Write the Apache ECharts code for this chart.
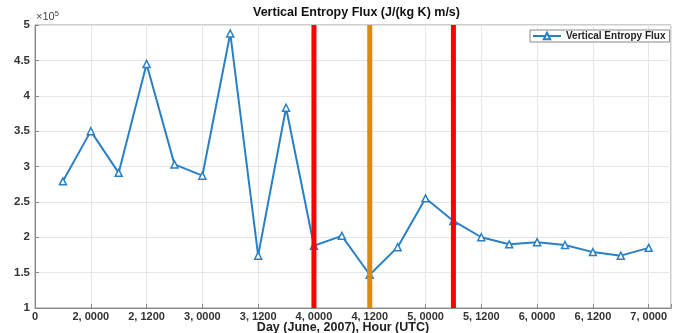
<!DOCTYPE html>
<html>
<head>
<meta charset="utf-8">
<script src="https://cdn.jsdelivr.net/npm/echarts@6/dist/echarts.min.js"></script>
<style>
  html, body { margin: 0; padding: 0; background: #fff; }
  #chart { width: 673px; height: 333px; }
</style>
</head>
<body>
<div id="chart"></div>
<script>
// tick labels along the time axis (one per 12 h)
const xTickLabels = ['0', '2, 0000', '2, 1200', '3, 0000', '3, 1200', '4, 0000',
  '4, 1200', '5, 0000', '5, 1200', '6, 0000', '6, 1200', '7, 0000'];
// sample positions in tick units (6-hourly)
const samplePos = [0.5, 1, 1.5, 2, 2.5, 3, 3.5, 4, 4.5, 5, 5.5, 6, 6.5, 7, 7.5, 8, 8.5, 9, 9.5, 10, 10.5, 11];
// flux values in units of 1e5
const fluxValues = [2.79, 3.50, 2.91, 4.45, 3.03, 2.87, 4.88, 1.74, 3.83, 1.88, 2.02,
  1.47, 1.86, 2.55, 2.23, 2.00, 1.90, 1.93, 1.89, 1.79, 1.74, 1.85];
const redMarks = [5, 7.5];
const orangeMarks = [6];

const font = 'Liberation Sans';
const chart = echarts.init(document.getElementById('chart'));

const vbar = (pos, color) => ({
  type: 'line',
  data: [[pos, 1], [pos, 5]],
  symbol: 'none',
  silent: true,
  z: 5,
  lineStyle: { color: color, width: 5 }
});

chart.setOption({
  animation: false,
  textStyle: { fontFamily: font },
  grid: {
    left: 35, right: 2, top: 25, bottom: 25,
    outerBoundsMode: 'none', containLabel: false,
    show: true, borderColor: '#9a9a9a', borderWidth: 1
  },
  legend: {
    data: ['Vertical Entropy Flux'],
    left: 530, top: 30,
    padding: [1, 4, 1, 2],
    itemWidth: 28, itemHeight: 8, itemGap: 4,
    backgroundColor: '#fff',
    borderColor: '#888', borderWidth: 1,
    textStyle: { fontSize: 10, fontWeight: 'bold', color: '#222', fontFamily: font }
  },
  graphic: [
    {
      type: 'text', left: 253, top: 6,
      style: { text: 'Vertical Entropy Flux (J/(kg K) m/s)', font: 'bold 12.5px "Liberation Sans"', fill: '#111' }
    },
    {
      type: 'text', left: 36, top: 10,
      style: {
        text: '×10{s|5}', fill: '#444', font: '11px "Liberation Sans"',
        rich: { s: { fontSize: 7.5, verticalAlign: 'top', padding: [0, 0, 6, 0], fill: '#444' } }
      }
    }
  ],
  xAxis: {
    type: 'value', min: 0, max: 11.4, interval: 1,
    name: 'Day (June, 2007), Hour (UTC)',
    nameLocation: 'middle', nameGap: 13, nameMoveOverlap: false,
    nameTextStyle: { fontSize: 12.5, fontWeight: 'bold', color: '#222', padding: [0, 0, 0, -20] },
    axisLine: { lineStyle: { color: '#888' } },
    axisTick: { inside: true, length: 4, lineStyle: { color: '#888' } },
    axisLabel: {
      fontSize: 11, fontWeight: 'bold', color: '#333', margin: 3,
      formatter: v => Number.isInteger(v) && xTickLabels[v] !== undefined ? xTickLabels[v] : ''
    },
    splitLine: { show: true, lineStyle: { color: '#e6e6e6' } }
  },
  yAxis: {
    type: 'value', min: 1, max: 5, interval: 0.5,
    axisLine: { show: true, lineStyle: { color: '#888' } },
    axisTick: { show: true, inside: true, length: 4, lineStyle: { color: '#888' } },
    axisLabel: { fontSize: 11.5, fontWeight: 'bold', color: '#333', margin: 5 },
    splitLine: { show: true, lineStyle: { color: '#e6e6e6' } }
  },
  series: [
    {
      name: 'Vertical Entropy Flux',
      type: 'line',
      data: samplePos.map((p, i) => [p, fluxValues[i]]),
      symbol: 'triangle', symbolSize: 7,
      z: 3,
      color: '#2a80c4',
      lineStyle: { color: '#2a80c4', width: 2 },
      itemStyle: { color: '#fff', borderColor: '#2a80c4', borderWidth: 1.5 }
    },
    ...redMarks.map(p => vbar(p, '#ff0000')),
    ...orangeMarks.map(p => vbar(p, '#e0880e'))
  ]
});
</script>
</body>
</html>
